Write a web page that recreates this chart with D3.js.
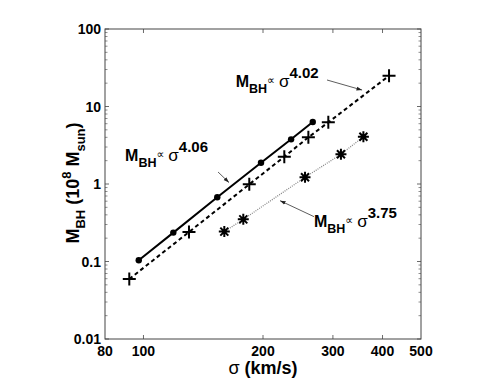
<!DOCTYPE html>
<html>
<head>
<meta charset="utf-8">
<script src="https://d3js.org/d3.v7.min.js"></script>
<style>
  body { margin: 0; background: #fff; }
  text { font-family: "Liberation Sans", Arial, Helvetica, sans-serif; }
</style>
</head>
<body>
<svg width="491" height="382"></svg>
<script>
// sigma (km/s) and M_BH (10^8 Msun)
const sigmaDots = [97.3, 118.9, 153.4, 197.7, 235.4, 266.9];
const massDots  = [0.104, 0.236, 0.676, 1.88, 3.77, 6.31];

const sigmaPlus = [92.1, 130.2, 184.7, 226.3, 260.2, 292.1, 415.4];
const massPlus  = [0.0594, 0.240, 0.99, 2.25, 4.0, 6.25, 24.9];

const sigmaStar = [159.8, 178.4, 255.2, 314.3, 358];
const massStar  = [0.243, 0.35, 1.22, 2.42, 4.07];

const xTicks = [80, 100, 200, 300, 400, 500];
const yTicks = [0.01, 0.1, 1, 10, 100];

// fit labels: [sigma, mass] of label start, exponent, arrow from/to
const labelExps  = ["4.06", "4.02", "3.75"];
const labelAt    = [[89.9, 1.98], [170.7, 17.85], [268.8, 0.275]];
const arrowFrom  = [[154.1, 1.428], [289.9, 21.98], [268.8, 0.379]];
const arrowTo    = [[164.2, 1.045], [355.3, 16.3], [220.8, 0.609]];

const margin = {top: 29, right: 70, bottom: 43, left: 105},
    width = 491 - margin.left - margin.right,
    height = 382 - margin.top - margin.bottom;

const svg = d3.select("svg");
const g = svg.append("g")
    .attr("transform", "translate(" + margin.left + "," + margin.top + ")");

const x = d3.scaleLog().domain([80, 500]).range([0, width]);
const y = d3.scaleLog().domain([0.01, 100]).range([height, 0]);

const axisColor = "#444";

// minor y ticks
const yMinor = [];
for (let e = -2; e < 2; e++) for (let k = 2; k <= 9; k++) yMinor.push(k * Math.pow(10, e));

g.selectAll(".yminor").data(yMinor).enter().append("path")
    .attr("d", d => "M0," + y(d) + "h2.5M" + width + "," + y(d) + "h-2.5")
    .attr("stroke", axisColor).attr("stroke-width", 0.6);

g.selectAll(".ymajor").data(yTicks).enter().append("path")
    .attr("d", d => "M0," + y(d) + "h4M" + width + "," + y(d) + "h-4")
    .attr("stroke", axisColor).attr("stroke-width", 0.8);

g.selectAll(".xmajor").data([100, 200, 300, 400]).enter().append("path")
    .attr("d", d => "M" + x(d) + "," + height + "v-4M" + x(d) + ",0v4")
    .attr("stroke", axisColor).attr("stroke-width", 0.8);

g.append("rect")
    .attr("width", width).attr("height", height)
    .attr("fill", "none").attr("stroke", axisColor).attr("stroke-width", 1);

// tick labels
g.selectAll(".ylab").data(yTicks).enter().append("text")
    .attr("x", -4).attr("y", d => y(d) + 5)
    .attr("text-anchor", "end")
    .style("font-size", "14px").style("font-weight", "bold")
    .text(d => d);

g.selectAll(".xlab").data(xTicks).enter().append("text")
    .attr("x", d => x(d)).attr("y", height + 17)
    .attr("text-anchor", "middle")
    .style("font-size", "14px").style("font-weight", "bold")
    .text(d => d);

// axis titles
const xt = g.append("text")
    .attr("x", x(200)).attr("y", height + 35)
    .attr("text-anchor", "middle")
    .style("font-size", "18px").style("font-weight", "bold");
xt.append("tspan").style("font-weight", "normal").text("σ");
xt.append("tspan").text(" (km/s)");

const yt = g.append("text")
    .attr("transform", "translate(-26," + (y(1) - 1) + ")rotate(-90)")
    .attr("text-anchor", "middle")
    .style("font-size", "18px").style("font-weight", "bold");
yt.append("tspan").text("M");
yt.append("tspan").attr("dy", 6).style("font-size", "13px").text("BH");
yt.append("tspan").attr("dy", -6).text(" (10");
yt.append("tspan").attr("dy", -8).style("font-size", "13px").text("8");
yt.append("tspan").attr("dy", 8).text(" M");
yt.append("tspan").attr("dy", 6).style("font-size", "13px").text("sun");
yt.append("tspan").attr("dy", -6).text(")");

// lines
const line = (xs, ys) => d3.line()(xs.map((s, i) => [x(s), y(ys[i])]));

g.append("path").attr("d", line(sigmaStar, massStar))
    .attr("fill", "none").attr("stroke", "#888").attr("stroke-width", 1.3)
    .attr("stroke-dasharray", "1,1.2");

g.append("path").attr("d", line(sigmaPlus, massPlus))
    .attr("fill", "none").attr("stroke", "#000").attr("stroke-width", 2)
    .attr("stroke-dasharray", "4,3");

g.append("path").attr("d", line(sigmaDots, massDots))
    .attr("fill", "none").attr("stroke", "#000").attr("stroke-width", 2);

// markers
g.selectAll(".dot").data(sigmaDots).enter().append("circle")
    .attr("cx", d => x(d)).attr("cy", (d, i) => y(massDots[i]))
    .attr("r", 3.2).attr("fill", "#000");

g.selectAll(".plus").data(sigmaPlus).enter().append("path")
    .attr("d", (d, i) => {
        const cx = x(d), cy = y(massPlus[i]), s = 6.5;
        return "M" + (cx - s) + "," + cy + "h" + 2 * s + "M" + cx + "," + (cy - s) + "v" + 2 * s;
    })
    .attr("stroke", "#000").attr("stroke-width", 2);

g.selectAll(".star").data(sigmaStar).enter().append("path")
    .attr("d", (d, i) => {
        const cx = x(d), cy = y(massStar[i]), s = 5.5, t = 4;
        return "M" + (cx - s) + "," + cy + "h" + 2 * s + "M" + cx + "," + (cy - s) + "v" + 2 * s +
            "M" + (cx - t) + "," + (cy - t) + "l" + 2 * t + "," + 2 * t +
            "M" + (cx - t) + "," + (cy + t) + "l" + 2 * t + "," + -2 * t;
    })
    .attr("stroke", "#000").attr("stroke-width", 2);

// arrows
svg.append("defs").append("marker")
    .attr("id", "ah").attr("viewBox", "0 0 10 10")
    .attr("refX", 10).attr("refY", 5)
    .attr("markerWidth", 7).attr("markerHeight", 7)
    .attr("orient", "auto")
    .append("path").attr("d", "M0,1.5L10,5L0,8.5z").attr("fill", "#222");

arrowFrom.forEach((a, i) => {
    g.append("line")
        .attr("x1", x(a[0])).attr("y1", y(a[1]))
        .attr("x2", x(arrowTo[i][0])).attr("y2", y(arrowTo[i][1]))
        .attr("stroke", "#333").attr("stroke-width", 0.8)
        .attr("marker-end", "url(#ah)");
});

// fit labels
labelAt.forEach((p, i) => {
    const t = g.append("text")
        .attr("x", x(p[0])).attr("y", y(p[1]))
        .style("font-size", "16px").style("font-weight", "bold");
    t.append("tspan").text("M");
    t.append("tspan").attr("dy", 6).style("font-size", "12.5px").text("BH");
    t.append("tspan").attr("dx", 0).attr("dy", -9).style("font-size", "11px")
        .style("font-family", "'DejaVu Sans'")
        .style("font-weight", "normal").text("∝");
    t.append("tspan").attr("dx", 4).attr("dy", 3).style("font-size", "17px")
        .style("font-weight", "normal").text("σ");
    t.append("tspan").attr("dy", -9).style("font-size", "15px").text(labelExps[i]);
});
</script>
</body>
</html>
